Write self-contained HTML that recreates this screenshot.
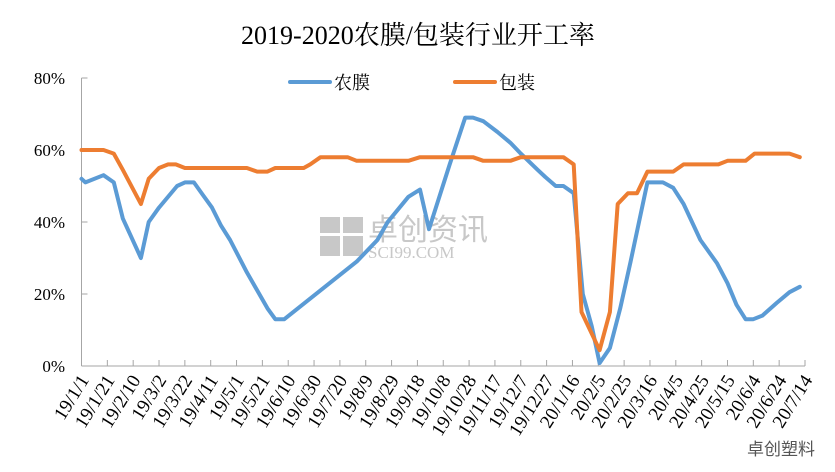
<!DOCTYPE html>
<html><head><meta charset="utf-8"><style>
body{margin:0;background:#fff}
svg{display:block;font-family:"Liberation Serif","Noto Serif CJK SC",serif}
</style></head><body>
<svg id="chart" width="835" height="472" viewBox="0 0 835 472">
<text x="418" y="44" text-anchor="middle" font-size="26" fill="#000" font-family="Liberation Serif, Noto Serif CJK SC, serif">2019-2020农膜/包装行业开工率</text>
<g>
<line x1="290" y1="82" x2="330" y2="82" stroke="#5b9bd5" stroke-width="4" stroke-linecap="round"/>
<text x="334" y="89" font-size="18" font-family="Noto Serif CJK SC, serif">农膜</text>
<line x1="455" y1="82" x2="495" y2="82" stroke="#ed7d31" stroke-width="4" stroke-linecap="round"/>
<text x="499" y="89" font-size="18" font-family="Noto Serif CJK SC, serif">包装</text>
</g>
<g fill="#c8c8c8">
<rect x="320" y="217" width="20" height="16"/><rect x="343" y="217" width="20" height="16"/>
<rect x="320" y="236" width="20" height="20"/><rect x="343" y="236" width="20" height="20"/>
<text x="368" y="240" font-size="30" font-family="Liberation Sans, Noto Sans CJK SC, sans-serif">卓创资讯</text>
<text x="368" y="258" font-size="17">SCI99.COM</text>
</g>
<text x="815" y="455" text-anchor="end" font-size="17" fill="#555" font-family="Liberation Sans, Noto Sans CJK SC, sans-serif">卓创塑料</text>
<g id="axes"></g>
<g id="series"></g>
</svg>
<script>
const yTicks=[0,20,40,60,80];
const nongmoDays=[0,3,17,25,32,46,52,60,74,80,87,94,101,108,115,128,136,144,150,157,213,229,237,253,262,269,285,297,303,311,322,332,340,353,359,367,373,381,388,395,401,409,417,425,438,450,458,466,479,492,500,507,514,520,527,538,548,556];
const nongmoVals=[52,51,53,51,41,30,40,44,50,51,51,47.5,44,39,35,26,21,16,13,13,29,35,40,47,49,38,56,69,69,68,65,62,59,54.5,52.5,50,50,48,20,11,0.8,5,16,29,51,51,49.5,45,35,28.5,23,17,13,13,14,17.5,20.5,22];
const baozhuangDays=[0,17,25,32,46,52,60,67,73,80,128,136,144,150,172,177,185,206,213,253,262,303,311,332,340,373,381,387,401,409,415,423,430,438,458,466,493,500,514,521,548,556];
const baozhuangVals=[60,60,59,54.5,45,52,55,56,56,55,55,54,54,55,55,56,58,58,57,57,58,58,57,57,58,58,56,15,4.4,15,45,48,48,54,54,56,56,57,57,59,59,58];
const xTickDays=[0,20,40,60,80,100,120,140,160,180,200,220,240,260,280,300,320,340,360,380,400,420,440,460,480,500,520,540,560];

const X0=81.5,X1=805,Y0=366,Y1=78,DMAX=560;
const xs=d=>X0+(X1-X0)*d/DMAX;
const ys=v=>Y0-(Y0-Y1)*v/80;
const NS="http://www.w3.org/2000/svg";
function mk(tag,attrs,parent){const e=document.createElementNS(NS,tag);for(const k in attrs)e.setAttribute(k,attrs[k]);parent.appendChild(e);return e;}
const axes=document.getElementById('axes'),series=document.getElementById('series');
const ya=mk('line',{x1:X0,y1:Y1,x2:X0,y2:Y0,stroke:'#a6a6a6','stroke-width':1},axes);


const xa=mk('line',{x1:X0,y1:Y0,x2:X1,y2:Y0,stroke:'#a6a6a6','stroke-width':1},axes);


yTicks.forEach(v=>{
  mk('line',{x1:X0,y1:ys(v),x2:X0+6,y2:ys(v),stroke:'#a6a6a6'},axes);
  const t=mk('text',{x:65,y:ys(v)+6,'text-anchor':'end','font-size':17,fill:'#000'},axes);
  t.textContent=v+'%';
  
  
});
const start=new Date(2019,0,1);
xTickDays.forEach(d=>{
  const x=xs(d);
  mk('line',{x1:x,y1:Y0,x2:x,y2:Y0-6,stroke:'#a6a6a6'},axes);
  const dt=new Date(start.getTime()+d*86400000);
  const lab=(dt.getFullYear()%100)+'/'+(dt.getMonth()+1)+'/'+dt.getDate();
  const ax=x+8, ay=380;
  const t=mk('text',{x:ax,y:ay,'text-anchor':'end','font-size':19,fill:'#000',transform:`rotate(-58 ${ax} ${ay})`},axes);
  t.textContent=lab;
  
  
});
function line(days,vals,color,name){
  const p=days.map((d,i)=>xs(d).toFixed(1)+','+ys(vals[i]).toFixed(1)).join(' ');
  const e=mk('polyline',{points:p,fill:'none',stroke:color,'stroke-width':4,'stroke-linejoin':'round','stroke-linecap':'round'},series);
  
  
}
line(nongmoDays,nongmoVals,'#5b9bd5','line-nongmo');
line(baozhuangDays,baozhuangVals,'#ed7d31','line-baozhuang');
</script>
</body></html>
